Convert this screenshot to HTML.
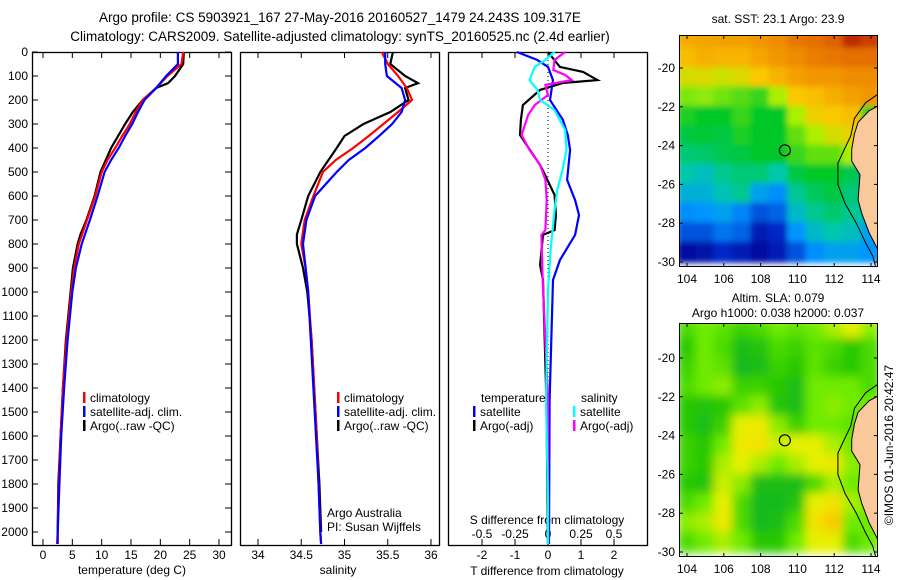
<!DOCTYPE html>
<html><head><meta charset="utf-8"><style>
html,body{margin:0;padding:0;background:#fff}
svg{display:block;font-family:"Liberation Sans",sans-serif}
text{font-size:12px;fill:#000}
</style></head><body>
<svg id="s" width="900" height="580" viewBox="0 0 900 580">
<text x="340" y="22" text-anchor="middle" style="font-size:13.5px">Argo profile: CS 5903921_167 27-May-2016 20160527_1479 24.243S 109.317E</text>
<text x="340" y="41" text-anchor="middle" style="font-size:13.5px">Climatology: CARS2009. Satellite-adjusted climatology: synTS_20160525.nc (2.4d earlier)</text>
<text x="132" y="574" text-anchor="middle">temperature (deg C)</text>
<text x="338" y="574" text-anchor="middle">salinity</text>
<text x="547" y="575" text-anchor="middle">T difference from climatology</text>
<text x="547" y="524" text-anchor="middle">S difference from climatology</text>
<text x="327" y="517">Argo Australia</text>
<text x="327" y="531">PI: Susan Wijffels</text>
<text x="778" y="23" text-anchor="middle">sat. SST: 23.1 Argo: 23.9</text>
<text x="778" y="302" text-anchor="middle">Altim. SLA: 0.079</text>
<text x="778" y="317" text-anchor="middle">Argo h1000: 0.038 h2000: 0.037</text>
<text transform="translate(893,445) rotate(-90)" text-anchor="middle">©IMOS 01-Jun-2016 20:42:47</text>
</svg>
<script>
// ---- profile data ----
const depthClim = [0,50,100,150,200,250,300,350,400,450,500,600,700,800,900,1000,1200,1400,1600,1800,2000,2050];
const tempClim = [23.9,23.6,21.2,19.3,17.0,15.8,14.8,13.5,12.3,11.0,10.0,8.9,7.5,6.1,5.3,4.8,4.0,3.4,3.0,2.7,2.5,2.4];
const tempSat = [23.0,23.0,21.0,19.3,17.3,16.2,15.2,14.0,12.9,11.6,10.5,9.3,8.0,6.6,5.6,5.0,4.2,3.6,3.1,2.8,2.5,2.5];
const salClim = [35.43,35.5,35.62,35.72,35.78,35.62,35.45,35.28,35.1,34.9,34.75,34.64,34.54,34.5,34.55,34.58,34.62,34.65,34.68,34.7,34.72,34.73];
const salSat = [35.47,35.47,35.49,35.66,35.7,35.66,35.55,35.4,35.24,35.05,34.91,34.66,34.56,34.52,34.55,34.58,34.61,34.64,34.67,34.7,34.72,34.73];
const depthArgo = [0,50,100,130,150,200,250,300,350,400,500,600,700,760,800,900,1000,1200,1400,1600,1800,2000];
const tempArgo = [24.0,23.9,22.5,21.3,19.3,17.0,15.3,14.0,12.8,11.6,9.8,8.8,7.4,6.4,5.9,5.1,4.7,3.9,3.4,3.0,2.6,2.5];
const salArgo = [35.56,35.53,35.7,35.85,35.7,35.74,35.53,35.22,35.0,34.91,34.72,34.58,34.5,34.45,34.45,34.52,34.57,34.62,34.65,34.68,34.71,34.73];
// ---- difference data ----
const depthTSatDiff = [0,33,62,117,200,283,346,408,533,617,679,762,867,950,1200,1450,2050];
const tSatDiff = [-0.94,-0.33,0,0.15,0.06,0.45,0.6,0.67,0.58,0.82,0.94,0.82,0.36,0.15,0.1,0.05,0.03];
const depthTArgoDiff = [0,62,83,117,129,158,221,283,346,408,471,512,596,679,742,762,887,950,1450,2050];
const tArgoDiff = [0,0.36,1.06,1.5,0.45,-0.24,-0.76,-0.82,-0.85,-0.55,-0.24,-0.09,0.2,0.24,0.2,-0.15,-0.24,-0.15,-0.05,0];
const depthSSatDiff = [0,33,62,117,158,200,242,325,408,492,575,658,825,992,1450,1867,2050];
const sSatDiff = [0.05,-0.02,-0.1,-0.14,-0.08,-0.06,0.05,0.13,0.14,0.11,0.07,0.05,0.02,0,-0.015,0,0];
const depthSArgoDiff = [0,33,75,96,117,137,179,221,262,346,408,471,533,617,742,762,950,1450,2050];
const sArgoDiff = [0.13,0.05,0.04,0.13,0.18,-0.02,0,-0.1,-0.15,-0.2,-0.14,-0.06,-0.02,-0.01,-0.02,-0.05,-0.04,0,0];
// ---- ticks ----
const depthTicks = [0,100,200,300,400,500,600,700,800,900,1000,1100,1200,1300,1400,1500,1600,1700,1800,1900,2000];
const tempTicks = [0,5,10,15,20,25,30];
const salTicks = [34,34.5,35,35.5,36];
const tDiffTicks = [-2,-1,0,1,2];
const sDiffTicks = [-0.5,-0.25,0,0.25,0.5];
const lonTicks = [104,106,108,110,112,114];
const latTicks = [-20,-22,-24,-26,-28,-30];
// ---- map grids (rows from -18.5 to -29.5, cols 104..114) ----
const sstGrid = [
[.76,.77,.78,.78,.8,.82,.85,.86,.88,.95,.93],
[.72,.75,.74,.74,.77,.8,.82,.84,.85,.86,.86],
[.65,.66,.64,.66,.7,.74,.78,.8,.8,.82,.82],
[.57,.58,.56,.54,.52,.6,.7,.72,.75,.78,.8],
[.5,.48,.48,.52,.48,.48,.6,.68,.7,.72,.5],
[.46,.47,.46,.5,.48,.48,.55,.6,.65,.68,.7],
[.42,.43,.45,.46,.48,.48,.52,.55,.55,.6,.5],
[.38,.36,.4,.42,.42,.38,.46,.48,.48,.45,.2],
[.33,.33,.37,.4,.3,.27,.4,.44,.46,.42,.4],
[.27,.28,.3,.26,.2,.22,.35,.4,.43,.4,.35],
[.2,.2,.24,.22,.1,.14,.28,.35,.38,.36,.3],
[.05,.07,.15,.1,.05,.1,.2,.27,.3,.3,.28]];
const slaGrid = [
[.4,.5,.45,.35,.4,.5,.45,.5,.6,.7,.55],
[.3,.5,.4,.2,.25,.4,.35,.45,.4,.3,.4],
[.35,.5,.45,.15,.2,.35,.3,.45,.35,.3,.4],
[.4,.5,.55,.35,.35,.3,.2,.5,.5,.5,.4],
[.3,.25,.3,.45,.55,.25,.2,.5,.55,.5,.5],
[.3,.2,.35,.7,.75,.55,.35,.5,.5,.45,.5],
[.35,.3,.5,.75,.8,.65,.7,.7,.6,.5,.5],
[.35,.3,.6,.7,.6,.5,.6,.7,.75,.55,.5],
[.3,.25,.65,.55,.2,.2,.2,.4,.6,.5,.5],
[.4,.5,.7,.4,.15,.15,.25,.7,.8,.6,.5],
[.55,.6,.75,.4,.15,.2,.4,.8,.9,.5,.5],
[.4,.5,.6,.5,.3,.3,.5,.7,.7,.4,.5]];
const landLon = [114.95,114.5,113.9,113.3,113.1,112.95,112.95,113.4,113.3,113.5,113.9,114.5,114.95];
const landLat = [-21.6,-21.9,-22.2,-22.8,-23.4,-24.2,-24.8,-25.5,-26.8,-27.5,-28.5,-29.6,-30.4];
const shelfLon = [114.95,114.6,113.7,113.1,112.9,112.5,112.2,112.2,112.6,113.2,113.7,114.1,114.3];
const shelfLat = [-20.2,-21.2,-21.8,-22.6,-23.5,-24.3,-24.9,-26.0,-27.0,-28.0,-29.0,-29.7,-30.4];
const argoLon = 109.317, argoLat = -24.243;

const S = document.getElementById('s');
const NS = 'http://www.w3.org/2000/svg';
function mk(tag, attrs, parent){const e=document.createElementNS(NS,tag);for(const k in attrs)e.setAttribute(k,attrs[k]);(parent||S).appendChild(e);return e;}

const Y0 = 52, Y1 = 545;
const yDepth = d => 52 + d*0.24;
const xTemp = t => 43 + t*5.8667;
const xSal = s => 258 + (s-34)*86.5;
const xTD = v => 548 + v*33;
const xSD = v => 548 + v*132;

function frame(x0,x1,name){
  const r = mk('rect',{x:x0+0.5,y:Y0+0.5,width:x1-x0,height:Y1-Y0,fill:'none',stroke:'#000','stroke-width':1.3});
  
  
}
function line(xs, ds, fx, color, name, w){
  const pts = xs.map((v,i)=>fx(v).toFixed(1)+','+yDepth(ds[i]).toFixed(1)).join(' ');
  const p = mk('polyline',{points:pts,fill:'none',stroke:color,'stroke-width':w||2.2,'stroke-linejoin':'miter'});
  
  
}
function tickX(vals, fx, x0, x1, labelY, name, inside){
  vals.forEach(v=>{
    const x = fx(v);
    mk('line',{x1:x,x2:x,y1:Y1,y2:Y1-6,stroke:'#000'});
    if(!inside) mk('line',{x1:x,x2:x,y1:Y0,y2:Y0+6,stroke:'#000'});
    const t = mk('text',{x:x,y:labelY,'text-anchor':'middle'});
    t.textContent = v;
    
    
  });
}
frame(32,231,'temperature-panel-frame');
frame(240,439,'salinity-panel-frame');
frame(448,647,'difference-panel-frame');
depthTicks.forEach(d=>{
  const y = yDepth(d);
  mk('line',{x1:32,x2:38,y1:y,y2:y,stroke:'#000'});
  mk('line',{x1:231,x2:225,y1:y,y2:y,stroke:'#000'});
  const t = mk('text',{x:28,y:y+4,'text-anchor':'end'});
  t.textContent = d;
  
  
});
tickX(tempTicks,xTemp,32,231,559,'temperature');
tickX(salTicks,xSal,240,439,559,'salinity');
tickX(tDiffTicks,xTD,448,647,559,'t-diff');
sDiffTicks.forEach(v=>{
  const x=xSD(v);
  const t = mk('text',{x:x,y:538,'text-anchor':'middle'});
  t.textContent = v;
  
  
  mk('line',{x1:x,x2:x,y1:Y0,y2:Y0+6,stroke:'#000'});
});
const zl = mk('line',{x1:548,x2:548,y1:Y0,y2:Y1,stroke:'#000','stroke-dasharray':'1,3'});



line(tempArgo,depthArgo,xTemp,'#000','temperature-argo-line');
line(tempClim,depthClim,xTemp,'#f00','temperature-climatology-line');
line(tempSat,depthClim,xTemp,'#00f','temperature-satellite-line');
line(salArgo,depthArgo,xSal,'#000','salinity-argo-line');
line(salClim,depthClim,xSal,'#f00','salinity-climatology-line');
line(salSat,depthClim,xSal,'#00f','salinity-satellite-line');
line(tArgoDiff,depthTArgoDiff,xTD,'#000','t-diff-argo-line');
line(tSatDiff,depthTSatDiff,xTD,'#00f','t-diff-satellite-line');
line(sArgoDiff,depthSArgoDiff,xSD,'#f0f','s-diff-argo-line');
line(sSatDiff,depthSSatDiff,xSD,'#0ff','s-diff-satellite-line');

function legend(x,y,color,label,name){
  const g = mk('g',{});
  
  
  mk('rect',{x:x,y:y-10,width:2.5,height:11,fill:color},g);
  const t = mk('text',{x:x+7,y:y},g); t.textContent = label;
}
legend(83,402,'#f00','climatology','legend-temp-climatology');
legend(83,416,'#00f','satellite-adj. clim.','legend-temp-satellite');
legend(83,430,'#000','Argo(..raw -QC)','legend-temp-argo');
legend(337,402,'#f00','climatology','legend-sal-climatology');
legend(337,416,'#00f','satellite-adj. clim.','legend-sal-satellite');
legend(337,430,'#000','Argo(..raw -QC)','legend-sal-argo');
const lt = mk('text',{x:481,y:402}); lt.textContent='temperature';


const ls = mk('text',{x:581,y:402}); ls.textContent='salinity';


legend(473,416,'#00f','satellite','legend-tdiff-satellite');
legend(473,430,'#000','Argo(-adj)','legend-tdiff-argo');
legend(573,416,'#0ff','satellite','legend-sdiff-satellite');
legend(573,430,'#f0f','Argo(-adj)','legend-sdiff-argo');

function jet(v){
  const stops=[[0,[0,0,140]],[.15,[0,40,200]],[.28,[0,150,255]],[.38,[0,200,170]],[.48,[0,200,40]],[.6,[170,240,0]],[.7,[250,200,0]],[.82,[240,140,0]],[.92,[210,70,0]],[1,[150,0,0]]];
  return ramp(stops,v);
}
function slaC(v){
  const stops=[[0,[0,170,60]],[.3,[40,200,0]],[.5,[110,235,0]],[.7,[230,240,0]],[.85,[250,220,0]],[1,[245,170,0]]];
  return ramp(stops,v);
}
function ramp(stops,v){
  for(let i=1;i<stops.length;i++){ if(v<=stops[i][0]){const a=stops[i-1],b=stops[i];const f=(v-a[0])/(b[0]-a[0]);return 'rgb('+a[1].map((c,k)=>Math.round(c+(b[1][k]-c)*f)).join(',')+')';}}
  return 'rgb('+stops[stops.length-1][1].join(',')+')';
}
function map(y0,y1,latRef,grid,cmap,name,blur){
  const X0=679,X1=878;
  const xL = lon => 687 + (lon-104)*18.4;
  const yL = lat => latRef + (-20-lat)*19.4;
  const g = mk('g',{}); 
  
  const cid = name+'-clip';
  const cp = mk('clipPath',{id:cid},g); mk('rect',{x:X0,y:y0,width:X1-X0,height:y1-y0},cp);
  const fid = name+'-blur';
  const f = mk('filter',{id:fid,x:'-10%',y:'-10%',width:'120%',height:'120%'},g); mk('feGaussianBlur',{stdDeviation:blur},f);
  const cg = mk('g',{'clip-path':'url(#'+cid+')'},g);
  const bg = mk('g',{filter:'url(#'+fid+')'},cg);
  grid.forEach((row,r)=>row.forEach((v,c)=>{
    const lon=103.5+c, lat=-18.0-r;
    const x=xL(lon), y=yL(lat);
    const cell = mk('rect',{x:x-1,y:y-1,width:18.4+2,height:19.4+2,fill:cmap(v)},bg);
    
  }));
  const land = mk('polygon',{points:landLon.map((v,i)=>xL(v).toFixed(1)+','+yL(landLat[i]).toFixed(1)).join(' ')+' '+(X1+5)+','+(y1+5)+' '+(X1+5)+','+yL(-21.6),fill:'#f9c89b',stroke:'#000','stroke-width':1},cg);
  
  const shelf = mk('polyline',{points:shelfLon.map((v,i)=>xL(v).toFixed(1)+','+yL(shelfLat[i]).toFixed(1)).join(' '),fill:'none',stroke:'#000','stroke-width':1},cg);
  
  const m = mk('circle',{cx:xL(argoLon),cy:yL(argoLat),r:5.5,fill:'none',stroke:'#000','stroke-width':1.2},g);
  
  mk('rect',{x:X0+0.5,y:y0+0.5,width:X1-X0-1,height:y1-y0-1,fill:'none',stroke:'#000'},g);
  lonTicks.forEach(v=>{const x=xL(v);mk('line',{x1:x,x2:x,y1:y0,y2:y0+4,stroke:'#000'},g);mk('line',{x1:x,x2:x,y1:y1,y2:y1-4,stroke:'#000'},g);
    const t=mk('text',{x:x,y:y1+16,'text-anchor':'middle'},g);t.textContent=v;});
  latTicks.forEach(v=>{const y=yL(v);mk('line',{x1:X0,x2:X0+4,y1:y,y2:y,stroke:'#000'},g);mk('line',{x1:X1,x2:X1-4,y1:y,y2:y,stroke:'#000'},g);
    const t=mk('text',{x:X0-4,y:y+4,'text-anchor':'end'},g);t.textContent=v;});
}
map(35,267,68,sstGrid,jet,'sst-map',3);
map(323,557,358,slaGrid,slaC,'sla-map',5);
</script>
</body></html>
